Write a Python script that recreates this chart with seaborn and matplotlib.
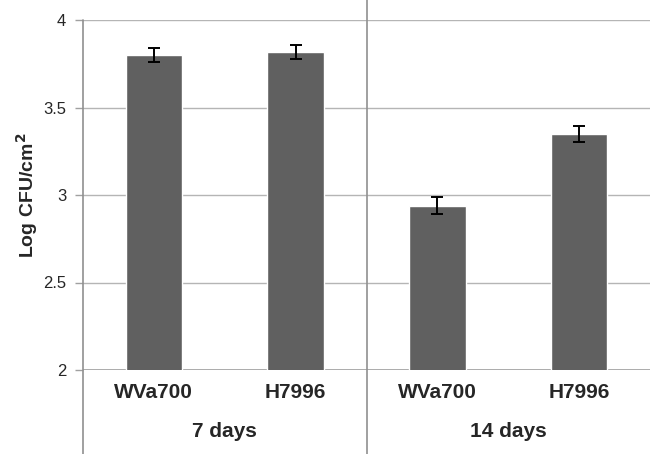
import pandas as pd
import matplotlib
matplotlib.use("Agg")
import matplotlib.pyplot as plt
import seaborn as sns

# data
strains = ['WVa700', 'H7996', 'WVa700 ', 'H7996 ']
groups = ['7 days', '14 days']
log_cfu = [3.80, 3.82, 2.94, 3.35]
err = [0.04, 0.04, 0.05, 0.045]

df = pd.DataFrame({'Strain': strains, 'LogCFU': log_cfu})

sns.set_style('white')
plt.rcParams['font.family'] = ['Liberation Sans', 'DejaVu Sans']

fig = plt.figure(figsize=(6.5, 4.54), dpi=100)
ax = fig.add_axes([83 / 650, 84 / 454, 567 / 650, 350 / 454])

sns.barplot(data=df, x='Strain', y='LogCFU', color='#606060', width=0.4,
            saturation=1, errorbar=None, ax=ax, zorder=3)

xs = [p.get_x() + p.get_width() / 2 for p in ax.patches]
ax.errorbar(xs, log_cfu, yerr=err, fmt='none', ecolor='black',
            elinewidth=1.4, capsize=4.5, capthick=1.4, zorder=4)

ax.set_ylim(2, 4)
ax.set_xlim(-0.5, 3.5)
ax.set_yticks([2, 2.5, 3, 3.5, 4])
ax.set_yticklabels(['2', '2.5', '3', '3.5', '4'], fontsize=12)
ax.yaxis.grid(True, color='#b5b5b5', lw=1)
ax.set_axisbelow(True)
for s in ['top', 'right', 'bottom', 'left']:
    ax.spines[s].set_visible(False)
ax.axhline(2, color='#a0a0a0', lw=1.2, zorder=2)
ax.tick_params(axis='y', length=6, color='#a0a0a0', width=1, pad=6, left=True)

ax.set_xticks(range(4))
ax.set_xticklabels([s.strip() for s in strains], fontsize=15, fontweight='bold')
ax.tick_params(axis='x', length=0, pad=9)
ax.set_xlabel('')
ax.set_ylabel('Log CFU/cm$^\\mathbf{2}$', fontsize=14, fontweight='bold')
ax.yaxis.set_label_coords(-0.075, 0.5)

tr = ax.get_xaxis_transform()
ax.plot([-0.5, -0.5], [-0.24, 1.0], transform=tr, color='#909090', lw=1.2, clip_on=False)
ax.plot([1.5, 1.5], [-0.24, 1.06], transform=tr, color='#909090', lw=1.2, clip_on=False)

for i, g in enumerate(groups):
    ax.text(0.5 + 2 * i, -0.175, g, transform=tr, ha='center', va='center',
            fontsize=15, fontweight='bold')

fig.savefig('out.png', dpi=100)
